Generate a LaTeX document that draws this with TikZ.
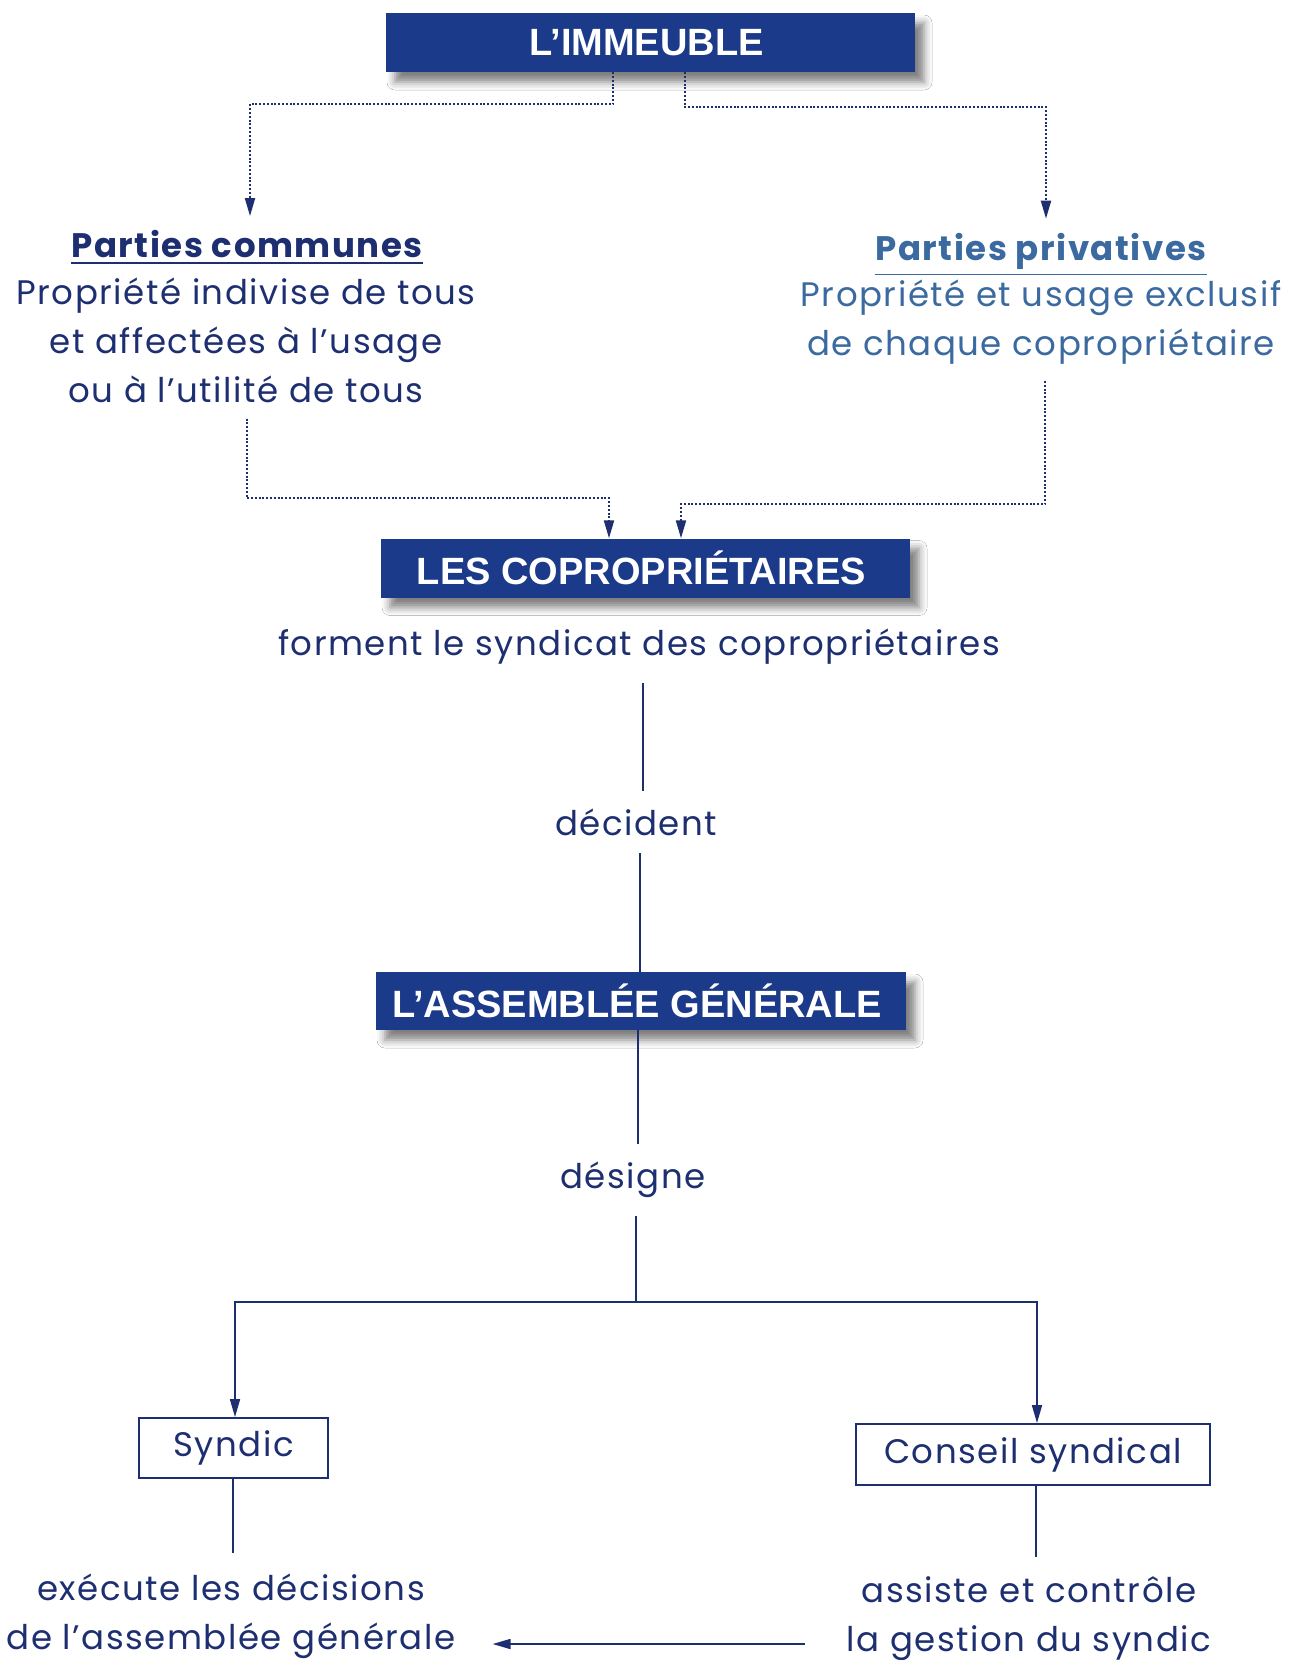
\documentclass[tikz,border=0pt]{standalone}
\usepackage{fontspec}
\setmainfont{Poppins}[LetterSpace=4.5]
\newfontfamily\boxfont{Liberation Sans}
\usetikzlibrary{shadows.blur,arrows.meta}
\definecolor{navy}{HTML}{1D2F70}
\definecolor{boxblue}{HTML}{1B3A8A}
\definecolor{lightblue}{HTML}{3B6AA0}
\begin{document}
\begin{tikzpicture}[x=1pt,y=-1pt,
  bigbox/.style={fill=boxblue, text=white, inner sep=0pt,
    font=\boxfont\bfseries\fontsize{38}{40}\selectfont,
    minimum height=59pt, minimum width=529pt,
    blur shadow={shadow xshift=9pt,shadow yshift=-10pt,shadow blur radius=8pt,shadow opacity=50}},
  body/.style={text=navy, inner sep=0pt, align=center, font=\fontsize{34}{49}\selectfont},
  lbl/.style={text=navy, inner sep=0pt, outer sep=18pt, font=\fontsize{34}{36}\selectfont},
  head/.style={inner sep=0pt, font=\bfseries\fontsize{34}{36}\selectfont},
  smallbox/.style={draw=navy, line width=1.8pt, text=navy, inner sep=0pt, font=\fontsize{34}{36}\selectfont},
  dotline/.style={draw=navy, line width=2pt, dash pattern=on 2pt off 1.8pt},
  solid/.style={draw=navy, line width=1.7pt},
  tip/.style={-{Triangle[length=18pt,width=10pt]}}
]
\useasboundingbox (0,0) rectangle (1295,1660);
\fill[white] (0,0) rectangle (1295,1660);

% top box
\node[bigbox] (imm) at (650.5,42.5) {L’IMMEUBLE\hspace*{8pt}};

% Parties communes
\node[head, text=navy] (pc) at (247,244) {Parties communes};
\draw[navy, line width=1.3pt] ([yshift=-5pt]pc.south west) -- ([yshift=-5pt]pc.south east);
\node[body] (pcd) at (246,340) {Propriété indivise de tous\\et affectées à l’usage\\ou à l’utilité de tous};

% Parties privatives
\node[head, text=lightblue] (pp) at (1041,251) {Parties privatives};
\draw[lightblue, line width=1.3pt] ([yshift=-5pt]pp.south west) -- ([yshift=-5pt]pp.south east);
\node[body, text=lightblue] (ppd) at (1041,322.5) {Propriété et usage exclusif\\de chaque copropriétaire};

% second box
\node[bigbox] (cop) at (645.5,568) {LES COPROPRIÉTAIRES\hspace*{8pt}};
\node[lbl] (fs) at (639,647) {forment le syndicat des copropriétaires};
\node[lbl] (dec) at (636,822) {décident};
\node[bigbox, minimum height=58pt, minimum width=530pt] (asm) at (641,1001) {L’ASSEMBLÉE GÉNÉRALE\hspace*{8pt}};
\node[lbl] (des) at (633,1180) {désigne};
\coordinate (split) at (636,1302);

\node[smallbox, minimum width=189pt, minimum height=60pt] (syn) at (233.5,1448) {Syndic};
\node[smallbox, minimum width=354pt, minimum height=61pt] (cs) at (1033,1454.5) {Conseil syndical};

\node[body] (exe) at (231,1616) {exécute les décisions\\de l’assemblée générale};
\node[body] (ass) at (1029,1619) {assiste et contrôle\\la gestion du syndic};

% dotted connectors
\draw[dotline, tip] ([xshift=-37.5pt]imm.south) -- ++(0,32) -| ([xshift=3pt,yshift=14pt]pc.north);
\draw[dotline, tip] ([xshift=34.5pt]imm.south) -- ++(0,35) -| ([xshift=5pt,yshift=14pt]pp.north);
\draw[dotline, tip] ([xshift=1pt,yshift=-16pt]pcd.south) |- ([xshift=-36.5pt,yshift=40pt]cop.north) -- ([xshift=-36.5pt]cop.north);
\draw[dotline, tip] ([xshift=4pt,yshift=-16pt]ppd.south) |- ([xshift=35.5pt,yshift=34pt]cop.north) -- ([xshift=35.5pt]cop.north);

% solid connectors
\draw[solid] (fs.south -| 643,0) -- (dec.north -| 643,0);
\draw[solid] (dec.south -| 640,0) -- (asm.north -| 640,0);
\draw[solid] (asm.south -| 638,0) -- (des.north -| 638,0);
\draw[solid] (des.south -| split) -- (split);
\draw[solid, tip] (split) -| (syn.north -| 235,0);
\draw[solid, tip] (split) -| (cs.north -| 1037,0);
\draw[solid] (syn.south -| 233,0) -- ([yshift=20pt]exe.north -| 233,0);
\draw[solid] (cs.south -| 1036,0) -- ([yshift=20pt]ass.north -| 1036,0);
\draw[solid, tip, shorten <=42pt, shorten >=37pt] ([yshift=-25pt]ass.west) -- ([yshift=-25pt]ass.west -| exe.east);
\end{tikzpicture}
\end{document}
